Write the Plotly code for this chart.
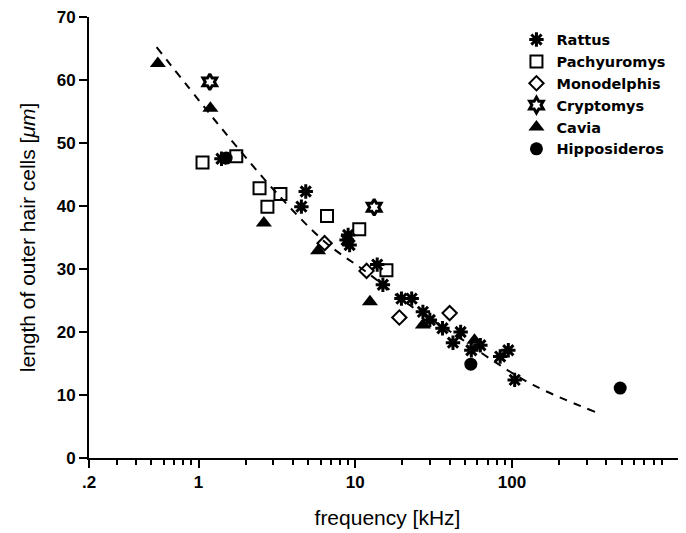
import plotly.graph_objects as go

# values (frequency in kHz, length in um)
rattus_f = [1.4, 4.83, 4.53, 9.0, 9.2, 8.8, 13.8, 15.0, 19.7, 22.9, 27, 29.9, 36, 47, 42, 62.8, 55, 94.7, 84, 104]
rattus_l = [47.5, 42.3, 39.9, 35.4, 33.8, 34.6, 30.7, 27.5, 25.3, 25.3, 23.2, 21.9, 20.6, 20.0, 18.3, 17.9, 17.1, 17.1, 16.1, 12.4]

pachy_f = [1.06, 1.74, 2.45, 3.33, 2.75, 6.6, 10.6, 15.8]
pachy_l = [46.9, 47.9, 42.8, 41.9, 39.9, 38.4, 36.3, 29.8]

mono_f = [6.37, 11.8, 19.1, 40]
mono_l = [34.1, 29.7, 22.3, 23.0]

crypto_f = [1.18, 13.2]
crypto_l = [59.7, 39.8]

cavia_f = [0.55, 1.19, 2.61, 5.79, 12.4, 27, 57.6]
cavia_l = [62.6, 55.5, 37.3, 32.9, 24.8, 21.1, 18.7]

hippo_f = [1.5, 54.6, 490]
hippo_l = [47.6, 14.9, 11.1]

# dashed fit curve
curve_f = [0.54, 1.19, 1.74, 3.3, 6.4, 11.8, 23, 45, 72, 136, 340]
curve_l = [65.2, 54.5, 49.5, 41.5, 34.3, 29.5, 24.0, 19.3, 15.8, 11.6, 7.3]

fig = go.Figure()
fig.add_trace(go.Scatter(x=curve_f, y=curve_l, mode='lines', showlegend=False,
                         line=dict(color='black', width=2, dash='8px,7px', shape='spline')))

series = [
    ('Rattus', rattus_f, rattus_l, dict(symbol='asterisk-open', size=12, color='black', line=dict(color='black', width=3))),
    ('Pachyuromys', pachy_f, pachy_l, dict(symbol='square-open', size=12, color='black', line=dict(color='black', width=2))),
    ('Monodelphis', mono_f, mono_l, dict(symbol='diamond-open', size=11, color='black', line=dict(color='black', width=2))),
    ('Cryptomys', crypto_f, crypto_l, dict(symbol='hexagram-open', size=12, color='black', line=dict(color='black', width=3))),
    ('Cavia', cavia_f, cavia_l, dict(symbol='triangle-up', size=14, color='black', line=dict(width=0))),
    ('Hipposideros', hippo_f, hippo_l, dict(symbol='circle', size=13, color='black', line=dict(width=0))),
]
for name, xs, ys, mk in series:
    fig.add_trace(go.Scatter(x=xs, y=ys, mode='markers', name=name, marker=mk))

minor_vals = [0.3, 0.4, 0.5, 0.6, 0.7, 0.8, 0.9] + [i for i in range(2, 10)] + \
             [i * 10 for i in range(2, 10)] + [i * 100 for i in range(2, 10)]

# page has an 8px body margin, so the figure is a bit smaller than the window
fig.update_layout(
    width=678, height=525,
    margin=dict(l=81, r=0, t=9, b=75),
    plot_bgcolor='white', paper_bgcolor='white',
    font=dict(family='Liberation Sans, Arial, sans-serif', color='black'),
    legend=dict(x=0.716, y=0.985, xanchor='left', yanchor='top',
                font=dict(family='DejaVu Sans', size=14.5, weight='bold'),
                bgcolor='rgba(0,0,0,0)', itemwidth=30, tracegroupgap=0),
)
fig.update_xaxes(type='log', range=[-0.699, 3.11], showgrid=False, zeroline=False, automargin=False,
                 showline=True, linecolor='black', linewidth=2,
                 ticks='outside', ticklen=8, tickwidth=2, tickcolor='black',
                 tickvals=[0.2, 1, 10, 100], ticktext=['.2', '1', '10', '100'],
                 tickfont=dict(size=17, weight='bold'), ticklabeloverflow='allow',
                 minor=dict(ticks='outside', ticklen=5, tickwidth=2, tickcolor='black', tickvals=minor_vals),
                 title=dict(text='frequency [kHz]', font=dict(size=21), standoff=19))
fig.update_yaxes(range=[0, 70], showgrid=False, zeroline=False, automargin=False,
                 showline=True, linecolor='black', linewidth=2,
                 ticks='outside', ticklen=8, tickwidth=2, tickcolor='black',
                 tickvals=[0, 10, 20, 30, 40, 50, 60, 70],
                 tickfont=dict(size=17, weight='bold'), ticklabeloverflow='allow',
                 title=dict(text='length of outer hair cells [<i>μm</i>]', font=dict(size=21), standoff=15))

fig.write_html("out.html")
